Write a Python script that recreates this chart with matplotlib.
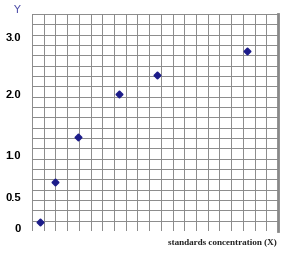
import numpy as np
import matplotlib
matplotlib.use('Agg')
import matplotlib.pyplot as plt

# standards (x in grid units, y in absorbance)
conc_x = [0.66, 1.96, 3.95, 7.43, 10.7, 18.36]
resp_y = [0.09, 0.68, 1.30, 2.00, 2.33, 2.76]

ytick_vals = [0, 0.5, 1.0, 2.0, 3.0]
ytick_labels = ['0', '0.5', '1.0', '2.0', '3.0']

# the printed y axis is not linear: map label values onto grid rows
knot_vals = np.array([-0.049, 0, 0.5, 1.0, 2.0, 3.0, 3.408])
knot_rows = np.array([0, 0.29, 3.26, 7.39, 13.23, 18.75, 21])

def fwd(v):
    return np.interp(v, knot_vals, knot_rows)

def inv(r):
    return np.interp(r, knot_rows, knot_vals)

fig = plt.figure(figsize=(2.9, 2.64), dpi=100)
ax = fig.add_axes([32 / 290, 33 / 264, 246 / 290, 217 / 264])
ax.set_yscale('function', functions=(fwd, inv))
ax.set_xlim(0, 21)
ax.set_ylim(inv(0), inv(21))

ax.set_xticks(np.arange(22), minor=True)
ax.set_yticks(inv(np.arange(22)), minor=True)
ax.set_xticks([])
ax.set_yticks(ytick_vals)
ax.set_yticklabels(ytick_labels, fontsize=8, fontweight='bold',
                   family='Liberation Sans')
ax.tick_params(which='both', length=0)
ax.tick_params(axis='y', pad=8)
ax.grid(which='minor', color='#8a8a8a', linewidth=0.7)

for s in ['left', 'top', 'bottom']:
    ax.spines[s].set_visible(False)
ax.spines['right'].set_color('#888888')
ax.spines['right'].set_linewidth(2)

ax.plot(conc_x, resp_y, 'D', color='#1c1c8a', markersize=3.5, clip_on=False)

fig.text(17 / 290, 1 - 10 / 264, 'Y', color='#4a4aa8', fontsize=8,
         ha='center', va='center', family='DejaVu Sans')
fig.text(277 / 290, 1 - 242 / 264, 'standards concentration (X)',
         fontsize=6.6, fontweight='bold', family='Liberation Serif',
         ha='right', va='center', color='#222222')

fig.savefig('out.png', dpi=100)
